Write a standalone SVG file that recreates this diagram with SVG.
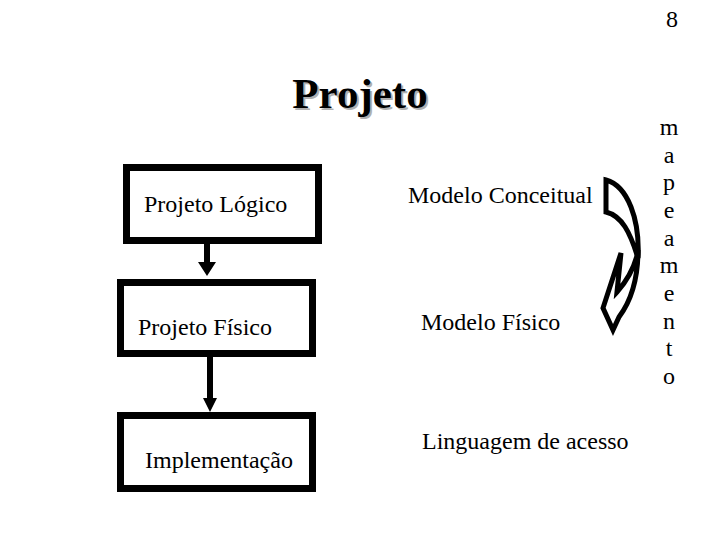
<svg xmlns="http://www.w3.org/2000/svg" width="720" height="540" viewBox="0 0 720 540">
<style>
.t{font-family:"Liberation Serif","Times New Roman",serif;font-size:24px;fill:#000}
.box{fill:#fff;stroke:#000;stroke-width:7}
.m{text-anchor:middle}
</style>
<rect width="720" height="540" fill="#fff"/>
<text class="t m" x="672" y="27">8</text>
<g id="title">
<text x="362" y="110" text-anchor="middle" style="font-family:'Liberation Serif','Times New Roman',serif;font-size:43px;font-weight:bold;fill:#b0b0b0">Projeto</text>
<text x="360" y="108" text-anchor="middle" style="font-family:'Liberation Serif','Times New Roman',serif;font-size:43px;font-weight:bold;fill:#000">Projeto</text>
</g>
<g id="logico"><rect class="box" x="126.5" y="167.5" width="192" height="73"/><text class="t" x="144" y="212">Projeto Lógico</text></g>
<g id="fisico"><rect class="box" x="120.5" y="282.5" width="192" height="71"/><text class="t" x="138" y="335">Projeto Físico</text></g>
<g id="impl"><rect class="box" x="120.5" y="415.5" width="192" height="73"/><text class="t" x="145" y="468">Implementação</text></g>
<g id="connectors">
<path d="M204 244 H210 V262 H216 L207 276 L198 262 H204 Z" fill="#000"/>
<path d="M207 357 H213 V398 H217 L210 412 L203 398 H207 Z" fill="#000"/>
</g>
<g id="conceitual"><text class="t" x="408" y="203">Modelo Conceitual</text></g>
<g id="modfisico"><text class="t" x="421" y="330">Modelo Físico</text></g>
<g id="linguagem"><text class="t" x="422" y="449">Linguagem de acesso</text></g>
<g id="curvedArrow" fill="#fff" stroke="#000" stroke-width="5" stroke-linejoin="miter">
<path d="M606 180 C628 186 640 220 638 258 C630 232 622 216 606 212 Z"/>
<path d="M638 250 C638 285 628 305 619 317 L613 330 L603 308 L621 253 L617 292 C626 282 633 270 637 256 Z"/>
</g>
<g id="mapeamento" class="t">
<text class="t m" x="669" y="135">m</text>
<text class="t m" x="669" y="163">a</text>
<text class="t m" x="669" y="190">p</text>
<text class="t m" x="669" y="218">e</text>
<text class="t m" x="669" y="246">a</text>
<text class="t m" x="669" y="273">m</text>
<text class="t m" x="669" y="301">e</text>
<text class="t m" x="669" y="329">n</text>
<text class="t m" x="669" y="356">t</text>
<text class="t m" x="669" y="384">o</text>
</g>
</svg>
